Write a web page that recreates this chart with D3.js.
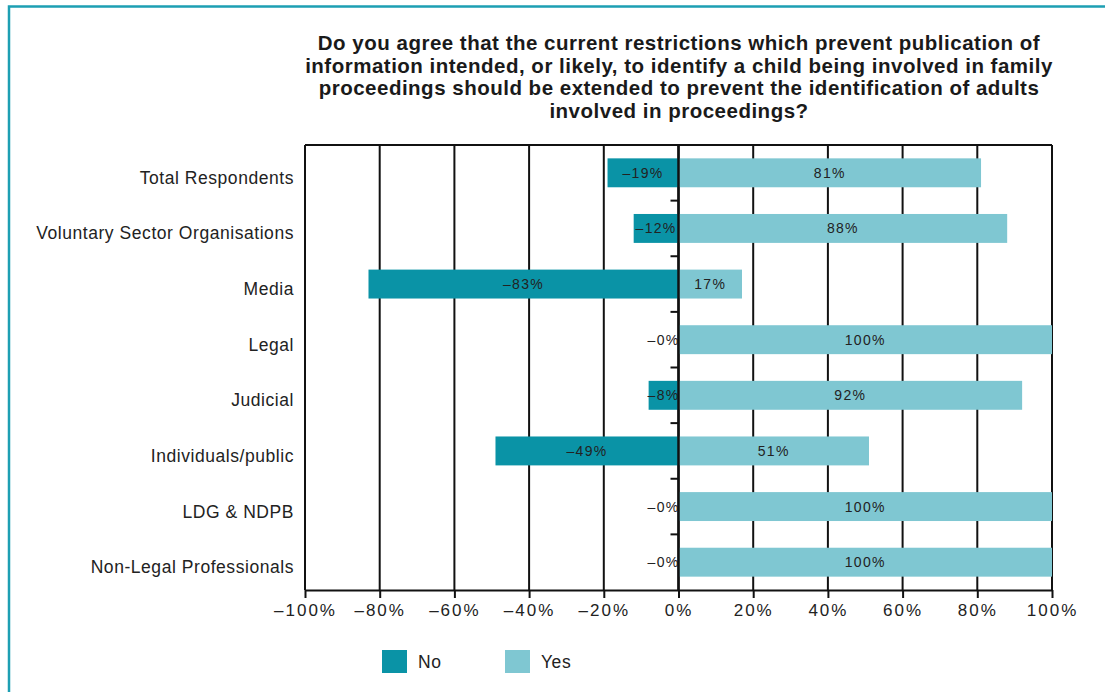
<!DOCTYPE html>
<html>
<head>
<meta charset="utf-8">
<script src="https://cdn.jsdelivr.net/npm/d3@7"></script>
<style>
  body { margin: 0; background: #fff; }
  text { font-family: "Liberation Sans", Arial, sans-serif; }
</style>
</head>
<body>
<script>
// data
var categories = ['Total Respondents', 'Voluntary Sector Organisations', 'Media', 'Legal',
                  'Judicial', 'Individuals/public', 'LDG & NDPB', 'Non-Legal Professionals'];
var noValues  = [-19, -12, -83, 0, -8, -49, 0, 0];
var yesValues = [81, 88, 17, 100, 92, 51, 100, 100];
var xTicks = [-100, -80, -60, -40, -20, 0, 20, 40, 60, 80, 100];
var seriesNames = ['No', 'Yes'];
var titleLines = [
  'Do you agree that the current restrictions which prevent publication of',
  'information intended, or likely, to identify a child being involved in family',
  'proceedings should be extended to prevent the identification of adults',
  'involved in proceedings?'
];

var colNo = '#0a93a6', colYes = '#7fc7d2';
var width = 1105, height = 692;
var plot = { left: 305, right: 1052, top: 145, bottom: 590 };

var svg = d3.select('body').append('svg')
    .attr('width', width)
    .attr('height', height);

// outer teal frame
svg.append('path')
    .attr('d', `M9,${height + 5} V6.5 H${width + 5}`)
    .attr('fill', 'none')
    .attr('stroke', '#1d9fb3')
    .attr('stroke-width', 2.5);

// title
svg.append('g').selectAll('text')
    .data(titleLines)
    .enter()
    .append('text')
    .attr('x', 679)
    .attr('y', (d, i) => 50 + i * 22.7)
    .attr('text-anchor', 'middle')
    .attr('font-size', 20.5)
    .attr('font-weight', 'bold')
    .attr('letter-spacing', 0.5)
    .attr('fill', '#1a1a1a')
    .text(d => d);

var xScale = d3.scaleLinear().domain([-100, 100]).range([plot.left, plot.right]);
var yScale = d3.scaleBand().domain(categories).range([plot.top, plot.bottom]).paddingInner(0.48).paddingOuter(0.24);
var band = d3.scaleBand().domain(categories).range([plot.top, plot.bottom]);

// vertical gridlines
svg.append('g').selectAll('line')
    .data(xTicks)
    .enter()
    .append('line')
    .attr('x1', d => xScale(d)).attr('x2', d => xScale(d))
    .attr('y1', plot.top).attr('y2', plot.bottom)
    .attr('stroke', '#111')
    .attr('stroke-width', 2);

// frame top
svg.append('line')
    .attr('x1', plot.left).attr('x2', plot.right)
    .attr('y1', plot.top).attr('y2', plot.top)
    .attr('stroke', '#111').attr('stroke-width', 2);

var rows = categories.map((c, i) => ({ cat: c, no: noValues[i], yes: yesValues[i] }));

// bars
svg.append('g').selectAll('rect')
    .data(rows)
    .enter()
    .append('rect')
    .attr('x', d => xScale(d.no))
    .attr('y', d => yScale(d.cat))
    .attr('width', d => xScale(0) - xScale(d.no))
    .attr('height', yScale.bandwidth())
    .attr('fill', colNo);

svg.append('g').selectAll('rect')
    .data(rows)
    .enter()
    .append('rect')
    .attr('x', xScale(0))
    .attr('y', d => yScale(d.cat))
    .attr('width', d => xScale(d.yes) - xScale(0))
    .attr('height', yScale.bandwidth())
    .attr('fill', colYes);

// bar labels
var lab = svg.append('g').attr('font-size', 14).attr('fill', '#222').attr('letter-spacing', 1.3);
lab.selectAll('.nolab')
    .data(rows)
    .enter()
    .append('text')
    .attr('x', d => d.no == 0 ? xScale(0) + 1 : (xScale(d.no) + xScale(0)) / 2)
    .attr('y', d => yScale(d.cat) + yScale.bandwidth() / 2 + 5)
    .attr('text-anchor', d => d.no == 0 ? 'end' : 'middle')
    .text(d => '\u2013' + Math.abs(d.no) + '%');
lab.selectAll('.yeslab')
    .data(rows)
    .enter()
    .append('text')
    .attr('x', d => (xScale(d.yes) + xScale(0)) / 2)
    .attr('y', d => yScale(d.cat) + yScale.bandwidth() / 2 + 5)
    .attr('text-anchor', 'middle')
    .text(d => d.yes + '%');

// zero axis with band ticks
svg.append('line')
    .attr('x1', xScale(0)).attr('x2', xScale(0))
    .attr('y1', plot.top).attr('y2', plot.bottom)
    .attr('stroke', '#111').attr('stroke-width', 2.5);
svg.append('g').selectAll('line')
    .data(categories.slice(1))
    .enter()
    .append('line')
    .attr('x1', xScale(0) - 8).attr('x2', xScale(0))
    .attr('y1', d => band(d)).attr('y2', d => band(d))
    .attr('stroke', '#111').attr('stroke-width', 2);

// category labels
svg.append('g').selectAll('text')
    .data(categories)
    .enter()
    .append('text')
    .attr('x', 294)
    .attr('y', d => yScale(d) + yScale.bandwidth() / 2 + 11)
    .attr('text-anchor', 'end')
    .attr('font-size', 17.5)
    .attr('letter-spacing', 0.55)
    .attr('fill', '#222')
    .text(d => d);

// x axis
var xAxis = d3.axisBottom(xScale)
    .tickValues(xTicks)
    .tickSize(8)
    .tickSizeOuter(0)
    .tickFormat(d => (d < 0 ? '\u2013' + Math.abs(d) : d) + '%');
var gx = svg.append('g')
    .attr('transform', `translate(0,${plot.bottom})`)
    .call(xAxis);
gx.select('.domain').attr('stroke', '#111').attr('stroke-width', 2);
gx.selectAll('.tick line').attr('stroke', '#111').attr('stroke-width', 2);
gx.selectAll('.tick text')
    .attr('y', 14)
    .attr('font-size', 17)
    .attr('letter-spacing', 2)
    .attr('fill', '#222')
    .attr('font-family', '"Liberation Sans", Arial, sans-serif');

// legend
var legend = svg.append('g').selectAll('g')
    .data(seriesNames)
    .enter()
    .append('g')
    .attr('transform', (d, i) => `translate(${382 + i * 123},650)`);
legend.append('rect')
    .attr('width', 25).attr('height', 23)
    .attr('fill', (d, i) => i == 0 ? colNo : colYes);
legend.append('text')
    .attr('x', 36).attr('y', 18)
    .attr('font-size', 17.5)
    .attr('letter-spacing', 0.55)
    .attr('fill', '#222')
    .text(d => d);
</script>
</body>
</html>
